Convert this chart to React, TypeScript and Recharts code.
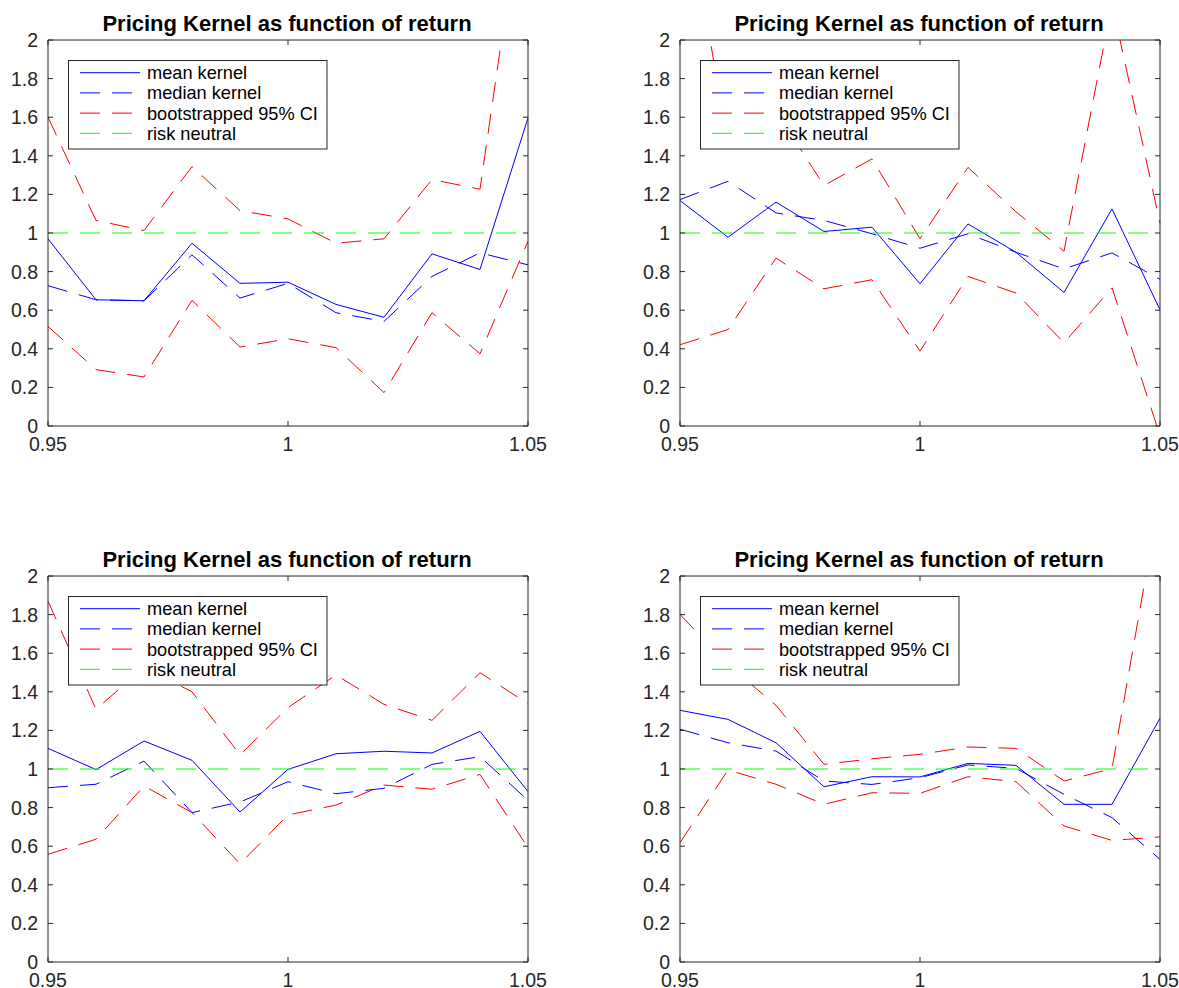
import React from 'react';
import { LineChart, Line, XAxis, YAxis } from 'recharts';

// ---------- data ----------
const returns = [0.95, 0.96, 0.97, 0.98, 0.99, 1.0, 1.01, 1.02, 1.03, 1.04, 1.05];
const xTicks = [0.95, 1, 1.05];
const yTicks = [0, 0.2, 0.4, 0.6, 0.8, 1, 1.2, 1.4, 1.6, 1.8, 2];
const panelTitle = 'Pricing Kernel as function of return';
const legendLabels = ['mean kernel', 'median kernel', 'bootstrapped 95% CI', 'risk neutral'];
const riskNeutral = [1, 1, 1, 1, 1, 1, 1, 1, 1, 1, 1];

// top-left panel
const meanTL = [0.97, 0.654, 0.649, 0.947, 0.739, 0.745, 0.63, 0.563, 0.892, 0.811, 1.596];
const medianTL = [0.727, 0.654, 0.649, 0.887, 0.663, 0.739, 0.587, 0.542, 0.775, 0.897, 0.835];
const upperTL = [1.6, 1.065, 1.013, 1.344, 1.116, 1.073, 0.947, 0.97, 1.277, 1.227, 2.95];
const lowerTL = [0.516, 0.292, 0.254, 0.651, 0.409, 0.452, 0.406, 0.173, 0.587, 0.374, 0.958];

// top-right panel
const meanTR = [1.168, 0.978, 1.16, 1.008, 1.03, 0.737, 1.047, 0.9, 0.692, 1.125, 0.602];
const medianTR = [1.173, 1.268, 1.104, 1.065, 0.996, 0.921, 0.996, 0.9, 0.814, 0.897, 0.76];
const upperTR = [2.95, 1.44, 1.63, 1.246, 1.384, 0.97, 1.34, 1.11, 0.906, 2.19, 1.05];
const lowerTR = [0.421, 0.5, 0.87, 0.711, 0.758, 0.388, 0.775, 0.689, 0.431, 0.716, -0.05];

// bottom-left panel
const meanBL = [1.107, 0.997, 1.145, 1.045, 0.777, 0.998, 1.079, 1.092, 1.083, 1.195, 0.883];
const medianBL = [0.903, 0.921, 1.041, 0.774, 0.829, 0.934, 0.872, 0.9, 1.024, 1.064, 0.838];
const upperBL = [1.87, 1.309, 1.527, 1.4, 1.073, 1.318, 1.487, 1.335, 1.252, 1.499, 1.338];
const lowerBL = [0.558, 0.636, 0.912, 0.774, 0.509, 0.762, 0.813, 0.917, 0.895, 0.972, 0.592];

// bottom-right panel
const meanBR = [1.304, 1.257, 1.136, 0.908, 0.96, 0.959, 1.029, 1.019, 0.817, 0.817, 1.263];
const medianBR = [1.206, 1.136, 1.093, 0.938, 0.92, 0.955, 1.021, 1.003, 0.869, 0.748, 0.532];
const upperBR = [1.801, 1.54, 1.33, 1.024, 1.053, 1.076, 1.114, 1.107, 0.938, 1.002, 2.42];
const lowerBR = [0.618, 0.995, 0.921, 0.817, 0.877, 0.874, 0.96, 0.934, 0.705, 0.63, 0.648];

// ---------- styles ----------
const FONT = '"Liberation Sans", Arial, Helvetica, sans-serif';
const AXIS = '#262626';
const BLUE = '#0000ff';
const RED = '#ff0000';
const GREEN = '#00ff00';
const DASH = '20 12';
const PLOT_W = 480;

const legendStyles = [
  { color: BLUE, dash: undefined },
  { color: BLUE, dash: DASH },
  { color: RED, dash: DASH },
  { color: GREEN, dash: DASH },
];

type PanelProps = {
  left: number;
  top: number;
  mean: number[];
  median: number[];
  upper: number[];
  lower: number[];
};

const fmtX = (v: number) => String(v);
const blank = () => '';

function Panel({ left, top, mean, median, upper, lower }: PanelProps) {
  const data = returns.map((x, i) => ({
    x,
    mean: mean[i],
    median: median[i],
    upper: upper[i],
    lower: lower[i],
    rn: riskNeutral[i],
  }));
  const tickStyle = { fill: AXIS, fontSize: 19.5, fontFamily: FONT };
  const lineCommon = {
    xAxisId: 'b',
    yAxisId: 'l',
    type: 'linear' as const,
    dot: false,
    activeDot: false,
    isAnimationActive: false,
    strokeWidth: 1,
  };
  return (
    <>
      <div style={{ position: 'absolute', left: left - 48, top: top - 40, width: 560, height: 470 }}>
        <LineChart width={560} height={470} data={data} margin={{ top: 39, right: 31, bottom: 14, left: 8 }}>
          <XAxis
            xAxisId="b"
            dataKey="x"
            type="number"
            domain={[0.95, 1.05]}
            ticks={xTicks}
            interval={0}
            height={30}
            tickSize={-5}
            tickMargin={16}
            tickFormatter={fmtX}
            tick={tickStyle}
            axisLine={{ stroke: AXIS }}
            tickLine={{ stroke: AXIS }}
          />
          <XAxis
            xAxisId="t"
            orientation="top"
            dataKey="x"
            type="number"
            domain={[0.95, 1.05]}
            ticks={xTicks}
            interval={0}
            height={1}
            tickSize={-5}
            tickFormatter={blank}
            tick={tickStyle}
            axisLine={{ stroke: AXIS }}
            tickLine={{ stroke: AXIS }}
          />
          <YAxis
            yAxisId="l"
            type="number"
            domain={[0, 2]}
            allowDataOverflow
            ticks={yTicks}
            interval={0}
            width={40}
            tickSize={-5}
            tickMargin={15}
            tick={tickStyle}
            axisLine={{ stroke: AXIS }}
            tickLine={{ stroke: AXIS }}
          />
          <YAxis
            yAxisId="r"
            orientation="right"
            type="number"
            domain={[0, 2]}
            allowDataOverflow
            ticks={yTicks}
            interval={0}
            width={1}
            tickSize={-5}
            tickFormatter={blank}
            tick={tickStyle}
            axisLine={{ stroke: AXIS }}
            tickLine={{ stroke: AXIS }}
          />
          <Line {...lineCommon} dataKey="mean" stroke={BLUE} />
          <Line {...lineCommon} dataKey="median" stroke={BLUE} strokeDasharray={DASH} />
          <Line {...lineCommon} dataKey="upper" stroke={RED} strokeDasharray={DASH} />
          <Line {...lineCommon} dataKey="lower" stroke={RED} strokeDasharray={DASH} />
          <Line {...lineCommon} dataKey="rn" stroke={GREEN} strokeDasharray={DASH} />
        </LineChart>
      </div>
      <svg
        style={{ position: 'absolute', left, top: top - 40, overflow: 'visible' }}
        width={PLOT_W}
        height={40}
      >
        <text
          x={PLOT_W / 2 - 1}
          y={31}
          textAnchor="middle"
          fontFamily={FONT}
          fontWeight="bold"
          fontSize={22}
          fill="#000"
        >
          {panelTitle}
        </text>
      </svg>
      <svg
        style={{ position: 'absolute', left: left + 20, top: top + 20 }}
        width={260}
        height={90}
      >
        <rect x={0.5} y={0.5} width={258.5} height={88.5} fill="#fff" stroke={AXIS} strokeWidth={1} />
        {legendLabels.map((lab, i) => {
          const cy = 12.7 + 20.2 * i;
          const st = legendStyles[i];
          return (
            <g key={lab}>
              <line x1={12} x2={72} y1={cy} y2={cy} stroke={st.color} strokeWidth={1} strokeDasharray={st.dash} />
              <text x={79} y={cy + 6.4} fontFamily={FONT} fontSize={18.2} fill="#000">
                {lab}
              </text>
            </g>
          );
        })}
      </svg>
    </>
  );
}

export default function App() {
  return (
    <div style={{ position: 'absolute', left: 0, top: 0, width: 1179, height: 988, background: '#fff' }}>
      <Panel left={48} top={40} mean={meanTL} median={medianTL} upper={upperTL} lower={lowerTL} />
      <Panel left={679.5} top={40} mean={meanTR} median={medianTR} upper={upperTR} lower={lowerTR} />
      <Panel left={48} top={576} mean={meanBL} median={medianBL} upper={upperBL} lower={lowerBL} />
      <Panel left={679.5} top={576} mean={meanBR} median={medianBR} upper={upperBR} lower={lowerBR} />
    </div>
  );
}
